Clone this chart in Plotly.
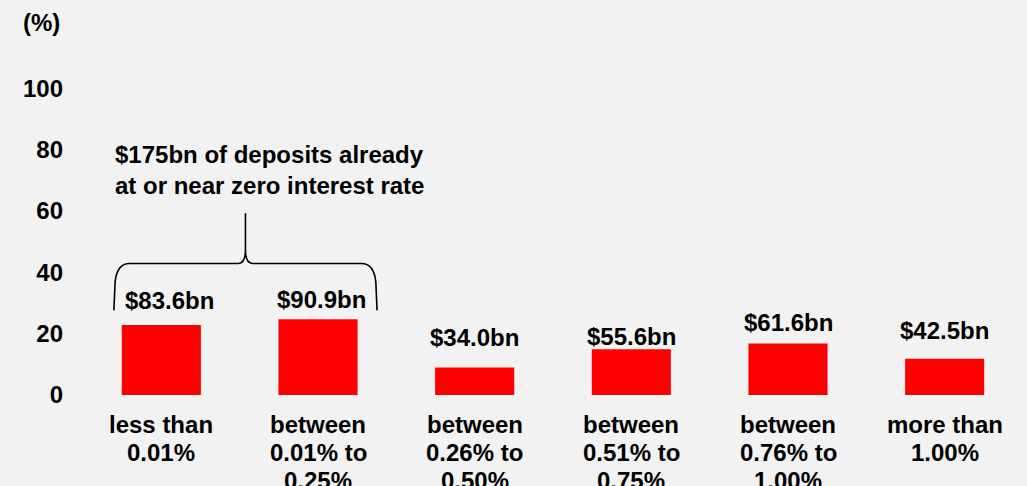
import plotly.graph_objects as go

# Deposit balances bucketed by the interest rate they earn
categories = [
    "less than<br>0.01%",
    "between<br>0.01% to<br>0.25%",
    "between<br>0.26% to<br>0.50%",
    "between<br>0.51% to<br>0.75%",
    "between<br>0.76% to<br>1.00%",
    "more than<br>1.00%",
]
share_pct = [22.8, 24.7, 9.0, 14.9, 16.8, 11.8]
amount_labels = ["$83.6bn", "$90.9bn", "$34.0bn", "$55.6bn", "$61.6bn", "$42.5bn"]
label_heights = [30.9, 31.1, 18.9, 19.1, 23.8, 21.1]
label_xshift = [8, 3, 0, 0, 0, 0]
y_ticks = [0, 20, 40, 60, 80, 100]

BG = "#f2f2f2"
FONT = dict(family="Liberation Sans, Arial, sans-serif", size=24, color="#000000", weight="bold")

x_pos = list(range(len(categories)))

fig = go.Figure(
    go.Bar(
        x=x_pos,
        y=share_pct,
        marker=dict(color="#ff0000", line=dict(width=0)),
        width=0.505,
        hoverinfo="skip",
    )
)

# Dollar amount above each bar
for xi, txt, yh, dx in zip(x_pos, amount_labels, label_heights, label_xshift):
    fig.add_annotation(
        x=xi, y=yh, text=txt, showarrow=False, xshift=dx,
        xanchor="center", yanchor="middle", font=FONT,
    )

# Category names under the bars, set line by line for a tighter leading
LINE_GAP = 28
for xi, name in zip(x_pos, categories):
    for k, line in enumerate(name.split("<br>")):
        fig.add_annotation(
            x=xi, xref="x", y=0, yref="paper", text=line, showarrow=False,
            xanchor="center", yanchor="middle", yshift=-(29 + LINE_GAP * k),
            font=FONT,
        )

# Axis unit label
fig.add_annotation(
    xref="paper", x=0, xshift=-21, xanchor="right",
    y=121.3, yanchor="middle", text="(%)", showarrow=False, font=FONT,
)

# Callout over the two lowest-rate buckets
fig.add_annotation(
    x=-0.311, y=73.3, xanchor="left", yanchor="middle", align="left",
    text="$175bn of deposits already<br>at or near zero interest rate",
    showarrow=False, font=FONT,
)

# Curly brace grouping the first two bars
xl, xr, xm = -0.303, 1.377, 0.537
y_end, y_bar, y_tip = 27.6, 42.9, 59.3
brace = (
    f"M {xl},{y_end} L {xl + 0.008},{y_bar - 6} "
    f"Q {xl + 0.02},{y_bar} {xl + 0.1},{y_bar} "
    f"L {xm - 0.045},{y_bar} Q {xm},{y_bar} {xm},{y_bar + 4.5} "
    f"L {xm},{y_tip} L {xm},{y_bar + 4.5} "
    f"Q {xm},{y_bar} {xm + 0.045},{y_bar} "
    f"L {xr - 0.1},{y_bar} Q {xr - 0.02},{y_bar} {xr - 0.008},{y_bar - 6} "
    f"L {xr},{y_end}"
)
fig.add_shape(type="path", path=brace, xref="x", yref="y",
              line=dict(color="#000000", width=1.6))

fig.update_layout(
    width=1027, height=486,
    margin=dict(l=83, r=4, t=15, b=91),
    paper_bgcolor=BG, plot_bgcolor=BG,
    font=FONT,
    showlegend=False,
    bargap=0.5,
)
fig.update_xaxes(
    range=[-0.5, 5.5], tickvals=x_pos, showticklabels=False,
    showgrid=False, zeroline=False, showline=False, ticks="",
    automargin=False,
)
fig.update_yaxes(
    range=[0, 123.9], tickvals=y_ticks,
    showgrid=False, zeroline=False, showline=False, ticks="",
    ticklabelstandoff=19, tickfont=FONT, automargin=False,
)

fig.write_html("out.html")
